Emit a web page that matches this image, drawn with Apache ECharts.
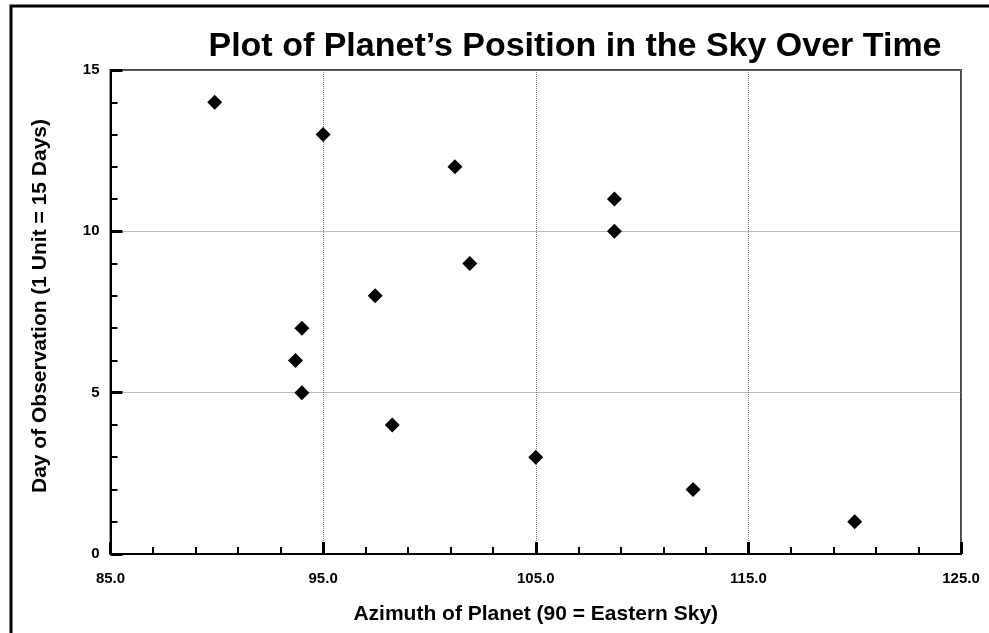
<!DOCTYPE html>
<html>
<head>
<meta charset="utf-8">
<script src="https://cdn.jsdelivr.net/npm/echarts@6/dist/echarts.min.js"></script>
<style>html,body{margin:0;padding:0;background:#fff;}#c{width:989px;height:633px;}</style>
</head>
<body>
<div id="c"></div>
<script>
var azimuth = [120.0, 112.4, 105.0, 98.25, 94.0, 93.7, 94.0, 97.45, 101.9, 108.7, 108.7, 101.2, 95.0, 89.9];
var day     = [1, 2, 3, 4, 5, 6, 7, 8, 9, 10, 11, 12, 13, 14];
var titleText = 'Plot of Planet\u2019s Position in the Sky Over Time';
var xName = 'Azimuth of Planet (90 = Eastern Sky)';
var yName = 'Day of Observation (1 Unit = 15 Days)';

var points = azimuth.map(function (a, i) { return [a, day[i]]; });
var font = 'Liberation Sans, Arial, sans-serif';

var chart = echarts.init(document.getElementById('c'));
chart.setOption({
  animation: false,
  backgroundColor: '#fff',
  title: {
    text: titleText,
    left: 570, top: 25, textAlign: 'center',
    textStyle: { fontFamily: font, fontWeight: 'bold', fontSize: 34, color: '#000' }
  },
  grid: {
    left: 110.5, right: 28, top: 70, bottom: 79,
    show: true, borderColor: '#444', borderWidth: 2, backgroundColor: 'transparent'
  },
  xAxis: {
    type: 'value', min: 85, max: 125, interval: 10,
    name: xName, nameLocation: 'middle', nameGap: 50,
    nameTextStyle: { fontFamily: font, fontWeight: 'bold', fontSize: 21, color: '#000' },
    axisLine: { show: true, lineStyle: { color: '#000', width: 2 } },
    axisTick: { show: true, inside: true, length: 12, lineStyle: { color: '#000', width: 3 } },
    minorTick: { show: true, splitNumber: 5, length: 7, lineStyle: { color: '#000', width: 2 } },
    axisLabel: {
      margin: 17, fontFamily: font, fontWeight: 'bold', fontSize: 15, color: '#000',
      formatter: function (v) { return v.toFixed(1); }
    },
    splitLine: { show: true, lineStyle: { color: '#777', type: 'dotted', width: 1 } }
  },
  yAxis: {
    type: 'value', min: 0, max: 15, interval: 5,
    name: yName, nameLocation: 'middle', nameGap: 60, nameRotate: 90,
    nameTextStyle: { fontFamily: font, fontWeight: 'bold', fontSize: 21, color: '#000', padding: [0, 0, 0, 12] },
    axisLine: { show: true, lineStyle: { color: '#000', width: 2 } },
    axisTick: { show: true, inside: true, length: 12, lineStyle: { color: '#000', width: 3 } },
    minorTick: { show: true, splitNumber: 5, length: 7, lineStyle: { color: '#000', width: 2 } },
    axisLabel: { margin: 11, fontFamily: font, fontWeight: 'bold', fontSize: 15, color: '#000',
      verticalAlign: 'middle', padding: [3, 0, 0, 0] },
    splitLine: { show: true, lineStyle: { color: '#777', type: 'dotted', width: 1 } }
  },
  graphic: [{
    type: 'polyline', silent: true, z: 100,
    shape: { points: [[11, 633], [11, 6], [989, 6]] },
    style: { stroke: '#000', lineWidth: 3, fill: null }
  }],
  series: [{
    type: 'scatter',
    data: points,
    symbol: 'diamond',
    symbolSize: 15,
    itemStyle: { color: '#000', opacity: 1 },
    z: 10
  }]
});
</script>
</body>
</html>
